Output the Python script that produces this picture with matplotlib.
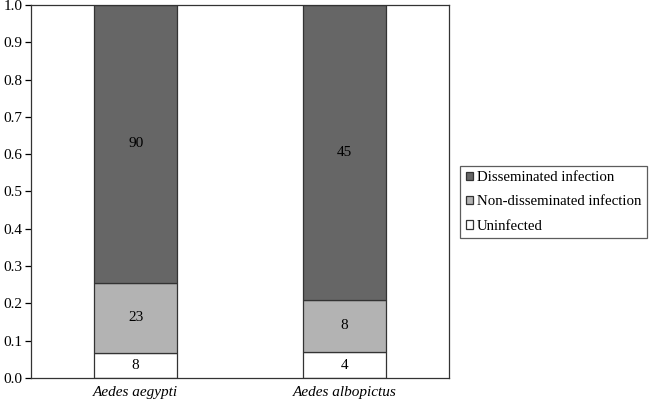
import matplotlib
matplotlib.use("Agg")
import matplotlib.pyplot as plt
import numpy as np

species = ["Aedes aegypti", "Aedes albopictus"]
uninfected = [8, 4]
non_disseminated = [23, 8]
disseminated = [90, 45]
series_names = ["Uninfected", "Non-disseminated infection", "Disseminated infection"]
colors = ["#ffffff", "#b3b3b3", "#666666"]
yticks = [0.0, 0.1, 0.2, 0.3, 0.4, 0.5, 0.6, 0.7, 0.8, 0.9, 1.0]

plt.rcParams['font.family'] = ['Liberation Serif', 'DejaVu Serif']

counts = np.array([uninfected, non_disseminated, disseminated], dtype=float)
totals = counts.sum(axis=0)
props = counts / totals

fig = plt.figure(figsize=(6.49, 4.04), dpi=100)
ax = fig.add_axes([0.048, 0.064, 0.644, 0.924])
x = np.arange(len(species))
bottom = np.zeros(len(species))
handles = []
for i, name in enumerate(series_names):
    bars = ax.bar(x, props[i], 0.4, bottom=bottom, color=colors[i],
                  edgecolor="#333333", linewidth=0.9, label=name)
    handles.append(bars)
    for j in range(len(species)):
        ax.text(x[j], bottom[j] + props[i][j] / 2, f"{int(counts[i][j])}",
                ha="center", va="center", fontsize=11, color="black")
    bottom += props[i]

ax.set_xlim(-0.5, 1.5)
ax.set_ylim(0, 1.0)
ax.set_yticks(yticks)
ax.set_yticklabels([f"{t:.1f}" for t in yticks], fontsize=11)
ax.set_xticks(x)
ax.set_xticklabels(species, fontsize=11, style="italic")
ax.tick_params(axis="x", length=0, pad=6)
ax.tick_params(axis="y", direction="out", length=4, width=0.9, pad=2)
for s in ax.spines.values():
    s.set_linewidth(0.9)
    s.set_color("#333333")

leg = fig.legend(handles[::-1], series_names[::-1], loc="upper left",
                 bbox_to_anchor=(0.709, 0.590), frameon=True, fancybox=False,
                 edgecolor="#333333", fontsize=10.7, handlelength=0.5,
                 handleheight=0.5, handletextpad=0.25, borderpad=0.38,
                 labelspacing=0.75, borderaxespad=0)
leg.get_frame().set_linewidth(0.9)

fig.savefig("out.png", dpi=100)
